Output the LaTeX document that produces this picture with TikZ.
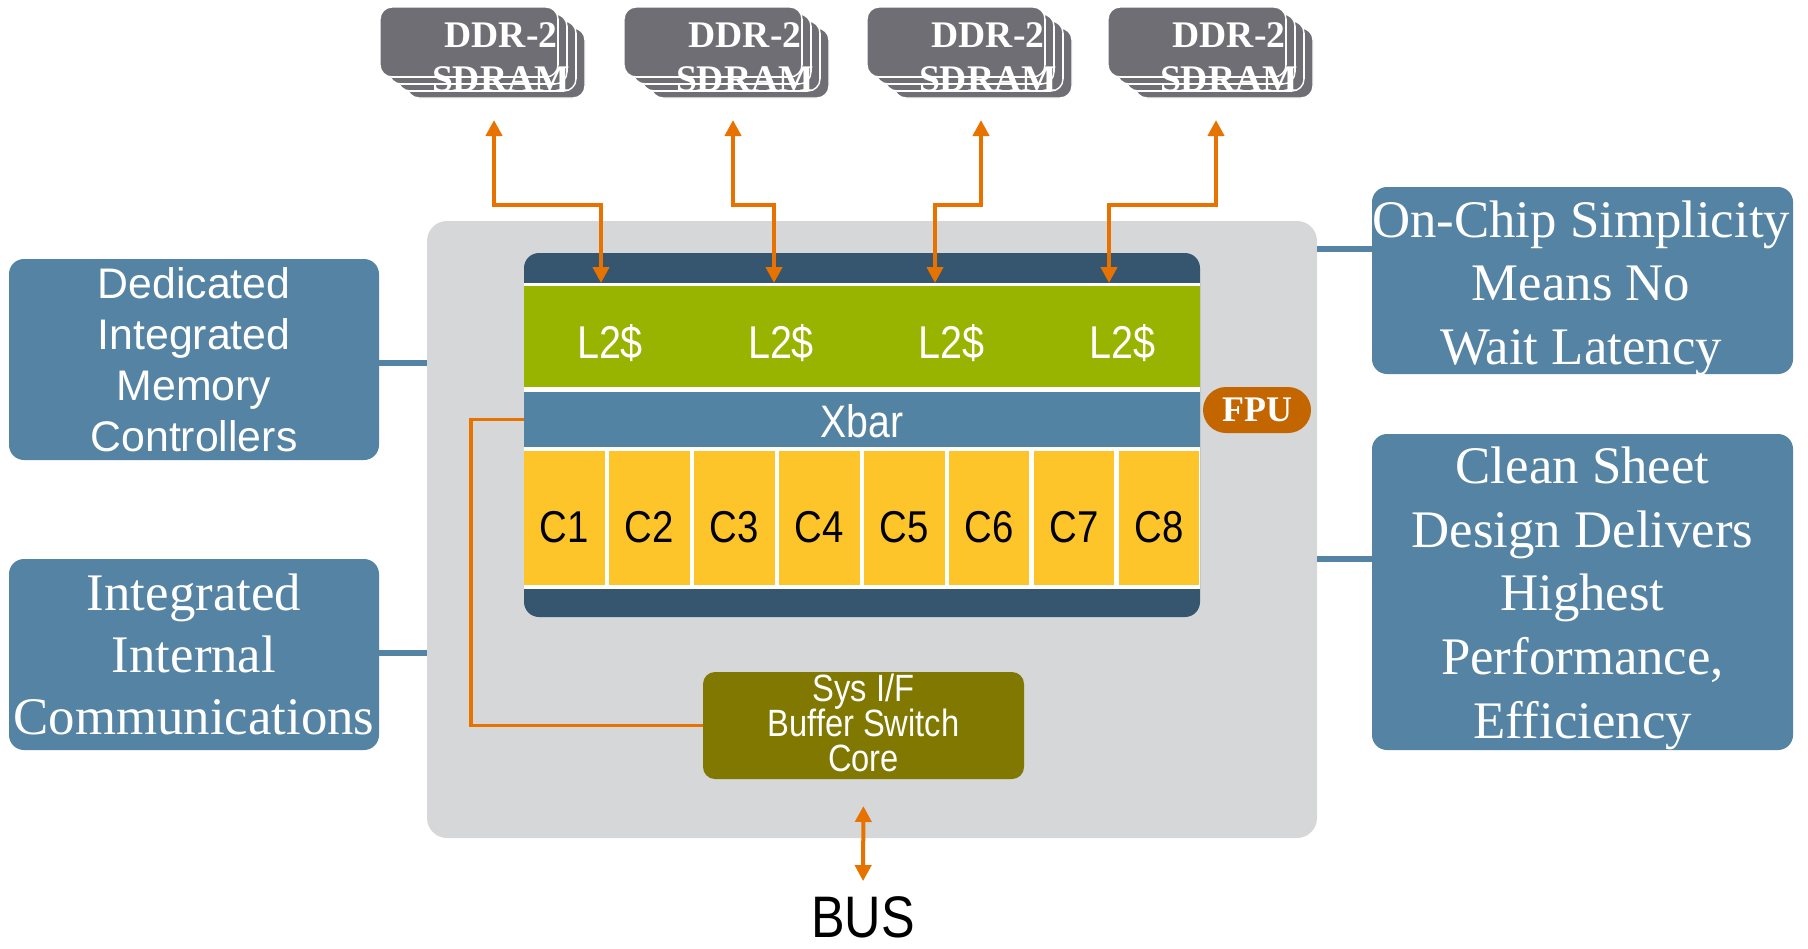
\documentclass[tikz,border=0pt]{standalone}
\usepackage{fontspec}
\setmainfont{Liberation Serif}
\newfontfamily\condsans[FakeStretch=0.86]{Liberation Sans}
\newfontfamily\plainsans{Liberation Sans}
\usetikzlibrary{arrows.meta}

\definecolor{chipbg}{HTML}{D6D7D9}
\definecolor{innerdark}{HTML}{35566E}
\definecolor{l2green}{HTML}{98B300}
\definecolor{xbarblue}{HTML}{5383A2}
\definecolor{coreyellow}{HTML}{FDC52A}
\definecolor{fpuorange}{HTML}{C46600}
\definecolor{sysolive}{HTML}{807800}
\definecolor{ddrgray}{HTML}{6E6E74}
\definecolor{linkorange}{HTML}{E87200}
\definecolor{boxblue}{HTML}{5583A3}

% tight three-line label font for the system interface
\newcommand\sysiffont{\condsans\fontsize{19}{17.5}\selectfont\lineskiplimit=-20pt\relax}

% one DDR-2 stack: #1 name, #2 left edge of the front card
\newcommand\ddrstack[2]{%
  \foreach \k in {3,2,1} {
    \path[ddrlayer] ({#2+9*\k},{7+7*\k}) rectangle ++(178,70);
  }
  \node[ddrcard, anchor=north west] (#1) at (#2,7) {};
  \node[ddrtext, anchor=north] (#1t) at ({#2+121},23) {DDR-2\\SDRAM};
  \foreach \k in {0,1,2} {
    \draw[ddredge] ({#2+9*\k+12},{77+7*\k}) -- ({#2+9*\k+166},{77+7*\k});
    \draw[ddredge] ({#2+9*\k+178},{7+7*\k+12}) -- ({#2+9*\k+178},{77+7*\k-12});
  }
}

\begin{document}
\begin{tikzpicture}[x=0.5pt,y=-0.5pt,
  every node/.style={inner sep=0pt, outer sep=0pt},
  ddrlayer/.style={fill=ddrgray, draw=white, line width=0.7pt, rounded corners=6pt},
  ddrcard/.style={rectangle, fill=ddrgray, draw=white, line width=0.7pt, rounded corners=6pt,
    minimum width=89pt, minimum height=35pt},
  ddredge/.style={white, line width=0.7pt},
  ddrtext/.style={text=white, align=center, font=\bfseries\fontsize{18.8}{22}\selectfont},
  biarrow/.style={draw=linkorange, line width=2pt,
    {Triangle[width=8pt,length=8pt]}-{Triangle[width=8pt,length=8pt]}},
  orangelink/.style={draw=linkorange, line width=1.7pt},
  bluelink/.style={draw=boxblue, line width=3pt},
  sidebox/.style={rectangle, rounded corners=7.5pt, fill=boxblue, text=white, align=center},
  serifbig/.style={text=white, align=center},
  bandnode/.style={rectangle, minimum width=338pt},
  l2text/.style={text=white, font=\condsans\fontsize{23}{25}\selectfont},
  corecell/.style={rectangle, fill=coreyellow, minimum width=40.4pt, minimum height=67pt,
    text height=24pt, text depth=0pt, font=\condsans\fontsize{22.3}{24}\selectfont},
]
\useasboundingbox (0,0) rectangle (1808,948);

% chip outline
\node[rectangle, fill=chipbg, rounded corners=10pt, minimum width=445pt, minimum height=308.5pt]
  (chip) at (872,529.5) {};

% processor block: memory ports, L2, crossbar, cores
\node[rectangle, fill=innerdark, rounded corners=7.5pt, minimum width=338pt, minimum height=182pt]
  (blk) at (862,435) {};
\fill[white] (524,283) rectangle (1200,589);
\node[bandnode, fill=l2green, minimum height=50.5pt] (l2) at (862,336.5) {};
\node[l2text, anchor=base] (l2a) at (610,358) {L2\$};
\node[l2text, anchor=base] (l2b) at (781,358) {L2\$};
\node[l2text, anchor=base] (l2c) at (951,358) {L2\$};
\node[l2text, anchor=base] (l2d) at (1122,358) {L2\$};
\node[bandnode, fill=xbarblue, minimum height=27.75pt, text=white,
  text height=18pt, text depth=0pt, font=\condsans\fontsize{22.8}{24}\selectfont]
  (xbar) at (862,419.25) {Xbar};
\foreach \i in {1,...,8} {
  \node[corecell] (c\i) at ({524+84.93*(\i-1)+40.4},518) {C\i};
}

% floating point unit
\node[rectangle, fill=fpuorange, rounded corners=11.5pt, minimum width=54pt, minimum height=23pt,
  text=white, font=\bfseries\fontsize{18}{20}\selectfont] (fpu) at (1257,410) {FPU};

% system interface
\node[rectangle, fill=sysolive, rounded corners=6pt, minimum width=160.5pt, minimum height=53.5pt,
  text=white, align=center, font=\sysiffont]
  (sysif) at (863.5,725.5) {Sys I/F\\Buffer Switch\\Core\rule[-3pt]{0pt}{1pt}};

% bus label
\node[anchor=base, font=\condsans\fontsize{29.3}{30}\selectfont] (bus) at (863,937) {BUS};

% memory stacks
\ddrstack{ddr1}{380}
\ddrstack{ddr2}{624}
\ddrstack{ddr3}{867}
\ddrstack{ddr4}{1108}

% memory channels
\coordinate (m1) at (494,120);  \coordinate (k1) at (601,205);
\coordinate (m2) at (733,120);  \coordinate (k2) at (774,205);
\coordinate (m3) at (981,120);  \coordinate (k3) at (935,205);
\coordinate (m4) at (1216,120); \coordinate (k4) at (1109,205);
\foreach \j in {1,...,4} {
  \draw[biarrow, shorten >=1.5pt] (m\j) |- (k\j) -- (k\j |- l2.north);
}

% crossbar to system interface
\coordinate (jx) at (471,0);
\draw[orangelink] (xbar.west) -- (xbar.west -| jx) -- (jx |- sysif.west) -- (sysif.west);

% system interface to bus
\draw[biarrow, shorten <=13.5pt, shorten >=7.5pt] (sysif.south) -- (bus.north);

% callouts on the left
\node[sidebox, minimum width=185pt, minimum height=100.5pt,
  font=\plainsans\fontsize{21.4}{25.5}\selectfont] (lb1) at (194,359.5)
  {Dedicated\\Integrated\\Memory\\Controllers};
\node[sidebox, minimum width=185pt, minimum height=95.5pt,
  font=\fontsize{26.4}{31.2}\selectfont] (lb2) at (194,654.5)
  {Integrated\\Internal\\Communications};

% callouts on the right
\node[sidebox, minimum width=210.5pt, minimum height=93.5pt] (rb1) at (1582.5,280.5) {};
\node[serifbig, anchor=north, font=\fontsize{26.4}{31.6}\selectfont] (rb1t) at (1581,201)
  {On-Chip Simplicity\\Means No\\Wait Latency};
\node[sidebox, minimum width=210.5pt, minimum height=158pt] (rb2) at (1582.5,592) {};
\node[serifbig, anchor=north, font=\fontsize{26.4}{31.8}\selectfont] (rb2t) at (1582.5,447)
  {Clean Sheet\\Design Delivers\\Highest\\Performance,\\Efficiency};

% callout links
\draw[bluelink] ([yshift=-1.75pt]lb1.east) -- ([yshift=-1.75pt]lb1.east -| chip.west);
\draw[bluelink] ([yshift=0.75pt]lb2.east) -- ([yshift=0.75pt]lb2.east -| chip.west);
\draw[bluelink] ([yshift=15.75pt]rb1.west) -- ([yshift=15.75pt]rb1.west -| chip.east);
\draw[bluelink] ([yshift=16.5pt]rb2.west) -- ([yshift=16.5pt]rb2.west -| chip.east);
\end{tikzpicture}
\end{document}
